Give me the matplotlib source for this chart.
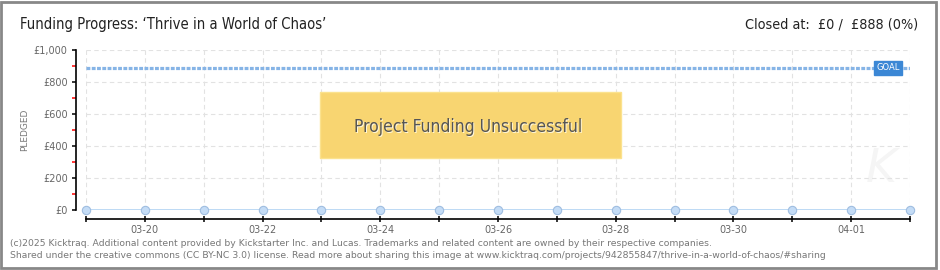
import matplotlib
matplotlib.use('Agg')
import matplotlib.pyplot as plt
from matplotlib.patches import Rectangle
import pandas as pd

# data
dates = ['2025-03-19', '2025-03-20', '2025-03-21', '2025-03-22', '2025-03-23',
         '2025-03-24', '2025-03-25', '2025-03-26', '2025-03-27', '2025-03-28',
         '2025-03-29', '2025-03-30', '2025-03-31', '2025-04-01', '2025-04-02']
pledged = [0, 0, 0, 0, 0, 0, 0, 0, 0, 0, 0, 0, 0, 0, 0]
goal = 888
y_major = [0, 200, 400, 600, 800, 1000]
y_minor = [100, 300, 500, 700, 900]
y_labels = ['£0', '£200', '£400', '£600', '£800', '£1,000']

title = 'Funding Progress: \u2018Thrive in a World of Chaos\u2019'
status = 'Closed at:  £0 /  £888 (0%)'
footer1 = ('(c)2025 Kicktraq. Additional content provided by Kickstarter Inc. and Lucas. '
           'Trademarks and related content are owned by their respective companies.')
footer2 = ('Shared under the creative commons (CC BY-NC 3.0) license. Read more about sharing '
           'this image at www.kicktraq.com/projects/942855847/thrive-in-a-world-of-chaos/#sharing')

x = pd.to_datetime(dates)

W, H = 940, 270
PX = 0.72  # points per pixel at dpi 100
fig = plt.figure(figsize=(W / 100, H / 100), dpi=100)
fig.patch.set_facecolor('white')

# plot area in pixels: x 86..910, y 50..210
ax = fig.add_axes([86 / W, (H - 210) / H, (910 - 86) / W, 160 / H])
ax.set_facecolor('white')

ax.plot(x, pledged, color='#b8d7f4', lw=1.3, zorder=3)
ax.plot(x, pledged, ls='none', marker='o', ms=6, mfc='#c4dcf6', mec='#9fbde0', mew=0.8,
        zorder=4, clip_on=False)

ax.axhline(goal, color='#86b4e6', lw=2.3, ls=(0, (1.2, 0.45)), zorder=2)
ax.text(0.973, goal, 'GOAL', transform=ax.get_yaxis_transform(), ha='center', va='center',
        fontsize=6, color='white', family='DejaVu Sans', zorder=6,
        bbox=dict(boxstyle='square,pad=0.3', fc='#3b87d5', ec='#3b87d5'))

ax.set_xlim(x[0], x[-1])
ax.set_ylim(0, 1000)

ax.set_xticks(x)
ax.set_xticklabels([d[5:] if i % 2 == 1 else '' for i, d in enumerate(dates)])
ax.set_yticks(y_major)
ax.set_yticklabels(y_labels)
ax.set_yticks(y_minor, minor=True)

ax.grid(True, color='#e2e2e2', ls=(0, (4, 3)), lw=0.8, zorder=0)

for s in ['top', 'right']:
    ax.spines[s].set_visible(False)
ax.spines['left'].set_position(('outward', 10 * PX))
ax.spines['bottom'].set_position(('outward', 9 * PX))
ax.spines['left'].set_linewidth(1.2)
ax.spines['bottom'].set_linewidth(1.2)

ax.tick_params(axis='x', direction='inout', length=5, width=1.1, colors='black',
               labelcolor='#666666', labelsize=7, pad=2)
ax.tick_params(axis='y', which='major', direction='out', length=3, width=1.1,
               labelcolor='#666666', labelsize=7, pad=3)
ax.tick_params(axis='y', which='minor', direction='out', length=3, width=1.1, color='red')

fig.text(25 / W, 1 - 130 / H, 'PLEDGED', rotation=90, ha='center', va='center',
         fontsize=6.5, color='#777777')

# unsuccessful banner
ax.add_patch(Rectangle(((320 - 86) / 824, (210 - 158) / 160), (621 - 320) / 824, 66 / 160,
                       transform=ax.transAxes, fc='#f8d571', ec='#fbe28e', lw=1, zorder=5))
ax.text(0.4636 + 0.0012, 0.519 - 0.008, 'Project Funding Unsuccessful', transform=ax.transAxes,
        ha='center', va='center', fontsize=12.5, color='#fff6d8', family='DejaVu Sans',
        fontstretch='condensed', zorder=6)
ax.text(0.4636, 0.519, 'Project Funding Unsuccessful', transform=ax.transAxes,
        ha='center', va='center', fontsize=12.5, color='#555555', family='DejaVu Sans',
        fontstretch='condensed', zorder=7)

# faint watermark
ax.text(0.965, 0.25, 'K', transform=ax.transAxes, ha='center', va='center', fontsize=34,
        style='italic', color='#f5f5f5', zorder=1)

fig.text(20 / W, 1 - 24 / H, title, ha='left', va='center', fontsize=10.6,
         family='DejaVu Sans', fontstretch='condensed', color='#222222')
fig.text(918 / W, 1 - 24 / H, status, ha='right', va='center', fontsize=10.3,
         family='DejaVu Sans', fontstretch='condensed', color='#222222')

fig.text(10 / W, 1 - 243 / H, footer1, ha='left', va='center', fontsize=6.7, color='#777777')
fig.text(10 / W, 1 - 256 / H, footer2, ha='left', va='center', fontsize=6.7, color='#777777')

# outer frame
fig.patches.append(Rectangle((1 / W, 2 / H), 935 / W, 266 / H, transform=fig.transFigure,
                             fill=False, ec='#888888', lw=2, figure=fig))

fig.savefig('out.png', dpi=100, facecolor='white')
